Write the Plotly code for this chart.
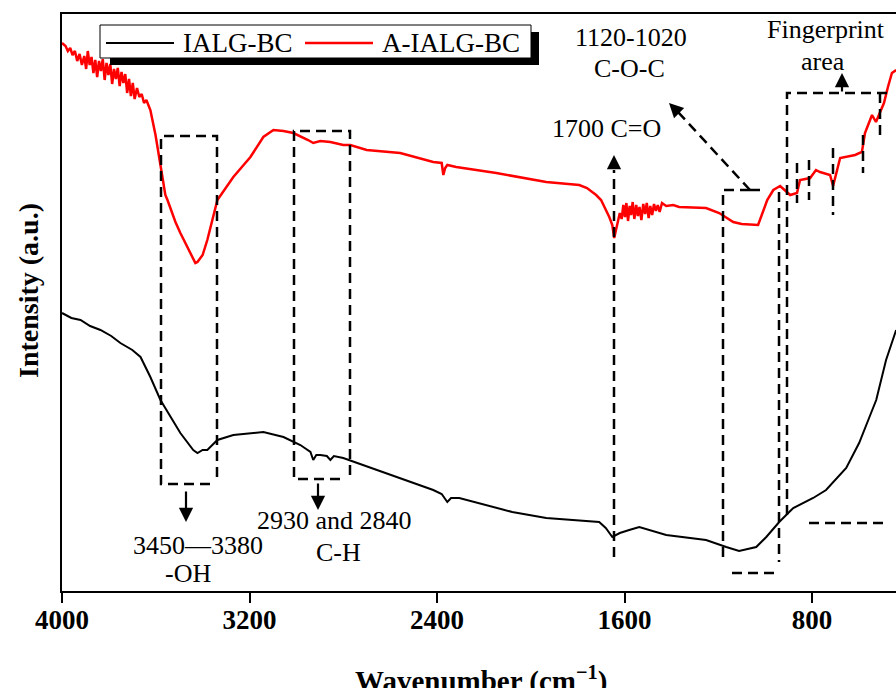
import plotly.graph_objects as go

# ---------------- data ----------------
wn_red = [4000, 3985, 3975, 3965, 3955, 3945, 3935, 3925, 3915, 3905, 3897, 3890, 3882, 3874,
          3866, 3858, 3850, 3842, 3834, 3826, 3818, 3810, 3802, 3794, 3786, 3778, 3770, 3762,
          3754, 3746, 3738, 3730, 3722, 3714, 3706, 3698, 3690, 3680, 3670, 3660, 3650, 3640,
          3623, 3601, 3580, 3559, 3550, 3516, 3495, 3460, 3431,
          3422, 3400, 3380, 3360, 3337, 3269, 3196, 3141, 3098, 3055, 3013, 2950, 2928, 2898,
          2855, 2800, 2770, 2700, 2557, 2416, 2380, 2373, 2365, 2356, 2318, 2147, 1934, 1793,
          1760, 1721, 1700, 1665, 1652, 1644, 1630, 1620, 1612, 1605, 1598, 1592, 1585, 1578,
          1572, 1565, 1558, 1550, 1543, 1536, 1528, 1520, 1512, 1505, 1497, 1490, 1482, 1474,
          1466, 1458, 1450, 1440, 1422, 1392, 1367, 1252, 1196, 1136, 1100,
          1030, 991, 965, 936, 893, 864, 851, 808, 783, 766, 723, 710, 680, 616, 587, 574,
          544, 527, 510, 493, 476, 459, 441]
int_red = [548, 545, 540, 543, 536, 540, 530, 537, 526, 535, 522, 540, 526, 534,
           518, 531, 514, 530, 520, 532, 511, 528, 516, 527, 507, 522, 512, 523,
           505, 519, 508, 517, 498, 512, 495, 508, 492, 503, 494, 497, 488, 491,
           481, 456, 426, 396, 391, 369, 358, 341, 328,
           329, 336, 351, 369, 391, 414, 434, 454, 461, 460, 458, 451, 448, 450,
           449, 446, 446, 441, 438, 429, 428, 416, 423, 426, 424, 418, 409, 406,
           403, 396, 391, 374, 366, 353, 366, 378, 372, 386, 374, 388, 370, 385,
           376, 389, 372, 386, 375, 384, 371, 387, 377, 388, 373, 385, 376, 387,
           380, 386, 379, 388, 385, 386, 384, 383, 378, 369, 367,
           366, 391, 401, 405, 396, 398, 411, 413, 421, 419, 416, 405, 433, 436, 439, 458,
           476, 469, 478, 488, 504, 518, 521]

wn_black = [4000, 3960, 3921, 3880, 3836, 3790, 3751, 3700, 3665, 3623, 3580, 3495, 3440, 3422,
            3400, 3380, 3337, 3269, 3141, 3055, 2983, 2940, 2928, 2915, 2898, 2870, 2855, 2840,
            2800, 2629, 2416, 2380, 2356, 2340, 2305, 2079, 1934, 1708, 1680, 1652, 1620, 1580,
            1537, 1422, 1252, 1166, 1111, 1038, 995, 940, 880, 795, 740, 654, 599, 548, 526,
            484, 441]
int_black = [278, 273, 271, 265, 261, 255, 248, 241, 234, 214, 191, 158, 141, 138,
             141, 141, 151, 156, 159, 154, 146, 139, 131, 136, 136, 135, 131, 135,
             133, 119, 101, 97, 89, 93, 93, 79, 73, 69, 63, 54, 58, 61,
             64, 56, 51, 44, 40, 44, 54, 69, 83, 93, 101, 123, 148, 178, 191,
             231, 261]

tick_vals = [4000, 3200, 2400, 1600, 800]
series_names = ["IALG-BC", "A-IALG-BC"]

# ---------------- layout helpers (pixel -> paper) ----------------
L, R, T, B = 62, 896, 14, 591
def PX(px):
    return (px - L) / (R - L)
def PY(py):
    return (B - py) / (B - T)

SERIF = "Liberation Serif, Tinos, Times New Roman, DejaVu Serif, serif"
DASH = "10px,6px"

fig = go.Figure()
fig.add_trace(go.Scatter(x=wn_black, y=int_black, mode="lines", name=series_names[0],
                         line=dict(color="black", width=2), showlegend=False))
fig.add_trace(go.Scatter(x=wn_red, y=int_red, mode="lines", name=series_names[1],
                         line=dict(color="#ff0000", width=2.5), showlegend=False))

shapes = []
def dline(p0, p1):
    shapes.append(dict(type="line", xref="paper", yref="paper",
                       x0=PX(p0[0]), y0=PY(p0[1]), x1=PX(p1[0]), y1=PY(p1[1]),
                       line=dict(color="black", width=2.5, dash=DASH), layer="above"))
def dpath(pts):
    d = "M " + " L ".join(f"{PX(a):.5f},{PY(b):.5f}" for a, b in pts)
    shapes.append(dict(type="path", xref="paper", yref="paper", path=d,
                       line=dict(color="black", width=2.5, dash=DASH), layer="above"))

# -OH box
dpath([(210, 484), (161, 484), (161, 136), (217, 136), (217, 482)])
# C-H box
dpath([(340, 479), (294, 479), (294, 131), (350, 131), (350, 476)])
# C=O line
dline((614, 557), (614, 170))
# C-O-C box
dpath([(750, 190), (723, 190), (723, 558)])
dline((750, 190), (766, 190))
dline((779, 192), (779, 562))
dline((732, 573), (776, 573))
dline((750, 190), (678, 112))
# Fingerprint box
dpath([(787, 515), (787, 93), (889, 93)])
dline((880, 93), (880, 140))
dline((797, 163), (797, 203))
dline((809, 160), (809, 200))
dline((833, 148), (833, 215))
dline((863, 135), (863, 173))
dline((809, 523), (883, 523))

# legend (with shadow)
shapes.append(dict(type="rect", xref="paper", yref="paper", x0=PX(110), x1=PX(539),
                   y0=PY(65), y1=PY(32), fillcolor="black", line=dict(width=0), layer="above"))
shapes.append(dict(type="rect", xref="paper", yref="paper", x0=PX(100), x1=PX(531),
                   y0=PY(58), y1=PY(25), fillcolor="white", line=dict(color="black", width=1),
                   layer="above"))
shapes.append(dict(type="line", xref="paper", yref="paper", x0=PX(106), x1=PX(174),
                   y0=PY(43), y1=PY(43), line=dict(color="black", width=2), layer="above"))
shapes.append(dict(type="line", xref="paper", yref="paper", x0=PX(305), x1=PX(373),
                   y0=PY(43), y1=PY(43), line=dict(color="#ff0000", width=2.5), layer="above"))

annotations = []
def txt(s, px, py, size=26, anchor="center", bold=False):
    annotations.append(dict(text=s, xref="paper", yref="paper", x=PX(px), y=PY(py),
                            xanchor=anchor, yanchor="middle", showarrow=False,
                            font=dict(family=SERIF, size=size, color="black",
                                      weight="bold" if bold else "normal")))
def arrow(tip, tail):
    annotations.append(dict(text="", xref="paper", yref="paper", x=PX(tip[0]), y=PY(tip[1]),
                            ax=tail[0] - tip[0], ay=tail[1] - tip[1], axref="pixel", ayref="pixel",
                            showarrow=True, arrowhead=2, arrowsize=1.3, arrowwidth=2.2,
                            arrowcolor="black"))

txt("3450\u20143380", 198, 545)
txt("-OH", 188, 573)
txt("2930 and 2840", 334, 520)
txt("C-H", 338, 552)
txt("1700 C=O", 606, 128)
txt("1120-1020", 631, 37)
txt("C-O-C", 629, 68)
txt("Fingerprint", 826, 29)
txt("area", 823, 62)
arrow((186, 522), (186, 490))
arrow((318, 510), (318, 482))
arrow((614, 155), (614, 170))
arrow((842, 73), (842, 93))
arrow((669, 103), (679, 113))

txt(series_names[0], 181, 43, size=27, anchor="left")
txt(series_names[1], 380, 43, size=27, anchor="left")

# axis titles
annotations.append(dict(text="<b>Wavenumber (cm<sup>\u22121</sup>)</b>", xref="paper", yref="paper",
                        x=PX(481), y=PY(679), xanchor="center", yanchor="middle", showarrow=False,
                        font=dict(family=SERIF, size=29, color="black")))
annotations.append(dict(text="<b>Intensity (a.u.)</b>", xref="paper", yref="paper",
                        x=PX(29), y=PY(291), xanchor="center", yanchor="middle", showarrow=False,
                        textangle=-90,
                        font=dict(family=SERIF, size=28, color="black")))

fig.update_layout(
    width=896, height=688,
    margin=dict(l=L, r=896 - R, t=T, b=688 - B),
    paper_bgcolor="white", plot_bgcolor="white",
    shapes=shapes, annotations=annotations,
    xaxis=dict(range=[4000, 441.6], tickvals=tick_vals,
               ticktext=[f"<b>{v}</b>" for v in tick_vals],
               ticks="outside", ticklen=10, tickwidth=2, tickcolor="black",
               ticklabelstandoff=-6,
               showline=True, linewidth=2, linecolor="black", mirror=True,
               showgrid=False, zeroline=False,
               tickfont=dict(family=SERIF, size=27, color="black")),
    yaxis=dict(range=[0, 577], showline=True, linewidth=2, linecolor="black", mirror=False,
               showticklabels=False, ticks="", showgrid=False, zeroline=False),
)

fig.write_html("out.html")
